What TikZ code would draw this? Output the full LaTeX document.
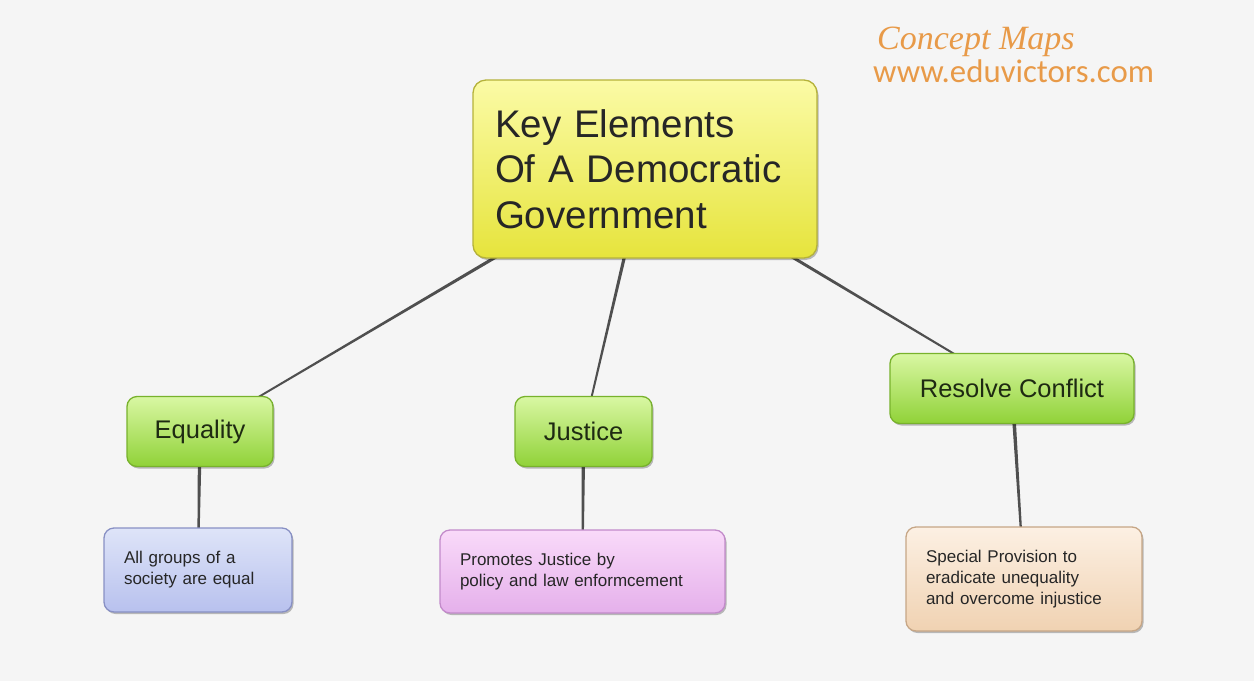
\documentclass[tikz,border=0pt]{standalone}
\usepackage{fontspec}
\setmainfont{Liberation Sans}
\newfontfamily\urlfont{Carlito}
\newfontfamily\scriptfnt{Liberation Serif}
\usetikzlibrary{backgrounds,shadows,calc}
\definecolor{bgc}{HTML}{F5F5F5}
\definecolor{txt}{HTML}{262626}
\definecolor{grtxt}{HTML}{1E2A12}
\definecolor{linec}{HTML}{4F4F4F}
\definecolor{yelT}{HTML}{FBFBA6}
\definecolor{yelB}{HTML}{E6E43C}
\definecolor{yelD}{HTML}{B5B23A}
\definecolor{grT}{HTML}{D9F7A3}
\definecolor{grB}{HTML}{90D238}
\definecolor{grD}{HTML}{78B22C}
\definecolor{blT}{HTML}{DEE4F8}
\definecolor{blB}{HTML}{B8C1EE}
\definecolor{blD}{HTML}{8890C4}
\definecolor{pkT}{HTML}{F9DAF9}
\definecolor{pkB}{HTML}{E5B0EB}
\definecolor{pkD}{HTML}{C28ACA}
\definecolor{tnT}{HTML}{FCF0E3}
\definecolor{tnB}{HTML}{F0D2B2}
\definecolor{tnD}{HTML}{C6A686}
\definecolor{orng}{HTML}{E89A48}
\tikzset{
  box/.style={draw, rounded corners=10pt, line width=1.3pt, text=txt,
    drop shadow={shadow xshift=1.5pt, shadow yshift=-2pt, opacity=0.25, fill=black}},
  mainbox/.style={box, top color=yelT, bottom color=yelB, draw=yelD,
    rounded corners=13pt, minimum width=344pt, minimum height=178pt,
    text width=300pt, inner xsep=22pt, align=left,
    font=\fontsize{38.5}{45.5}\selectfont},
  greenbox/.style={box, top color=grT, bottom color=grB, draw=grD, text=grtxt,
    minimum height=70pt, font=\fontsize{25.5}{30}\selectfont},
  leafbox/.style={box, align=left, inner xsep=20pt,
    font=\fontsize{17}{21}\selectfont},
  brand/.style={anchor=base west, inner sep=0pt, text=orng}
}
% tapered connector from #1 (wide end) to #2 (narrow end)
\newcommand\taperlink[2]{%
  \fill[linec] ($(#1)!2pt!90:(#2)$) -- ($(#2)!0.8pt!-90:(#1)$)
    -- ($(#2)!0.8pt!90:(#1)$) -- ($(#1)!2pt!-90:(#2)$) -- cycle;}
\begin{document}
\begin{tikzpicture}[x=1pt,y=-1pt]
\useasboundingbox (0,0) rectangle (1254,681);

\node[mainbox] (main) at (645,169) {Key Elements\\Of A Democratic\\Government};

\node[greenbox, minimum width=146pt] (eq) at (200,431.5) {Equality};
\node[greenbox, minimum width=137pt] (ju) at (583.5,431.5) {Justice};
\node[greenbox, minimum width=244pt] (rc) at (1012,388.5) {Resolve Conflict};

\node[leafbox, top color=blT, bottom color=blB, draw=blD,
      text width=148pt, minimum height=84pt] (eqd) at (198,570)
      {All groups of a\\society are equal};
\node[leafbox, top color=pkT, bottom color=pkB, draw=pkD,
      text width=245pt, minimum height=83pt] (jud) at (582.5,571.5)
      {Promotes Justice by\\policy and law enformcement};
\node[leafbox, top color=tnT, bottom color=tnB, draw=tnD,
      text width=196pt, minimum height=104pt] (rcd) at (1024,579)
      {Special Provision to\\eradicate unequality\\and overcome injustice};

\node[brand, font=\scriptfnt\itshape\fontsize{34}{34}\selectfont] (cm) at (877,49) {Concept Maps};
\node[brand, font=\urlfont\fontsize{32.8}{32.8}\selectfont] (url) at (873,82) {www.eduvictors.com};

\begin{pgfonlayer}{background}
  \fill[bgc] (0,0) rectangle (1254,681);
  \taperlink{main.center}{eq.center}
  \taperlink{main.center}{ju.center}
  \taperlink{main.center}{rc.center}
  \taperlink{eq.center}{eqd.center}
  \taperlink{ju.center}{jud.center}
  \taperlink{rc.center}{rcd.center}
\end{pgfonlayer}
\end{tikzpicture}
\end{document}
